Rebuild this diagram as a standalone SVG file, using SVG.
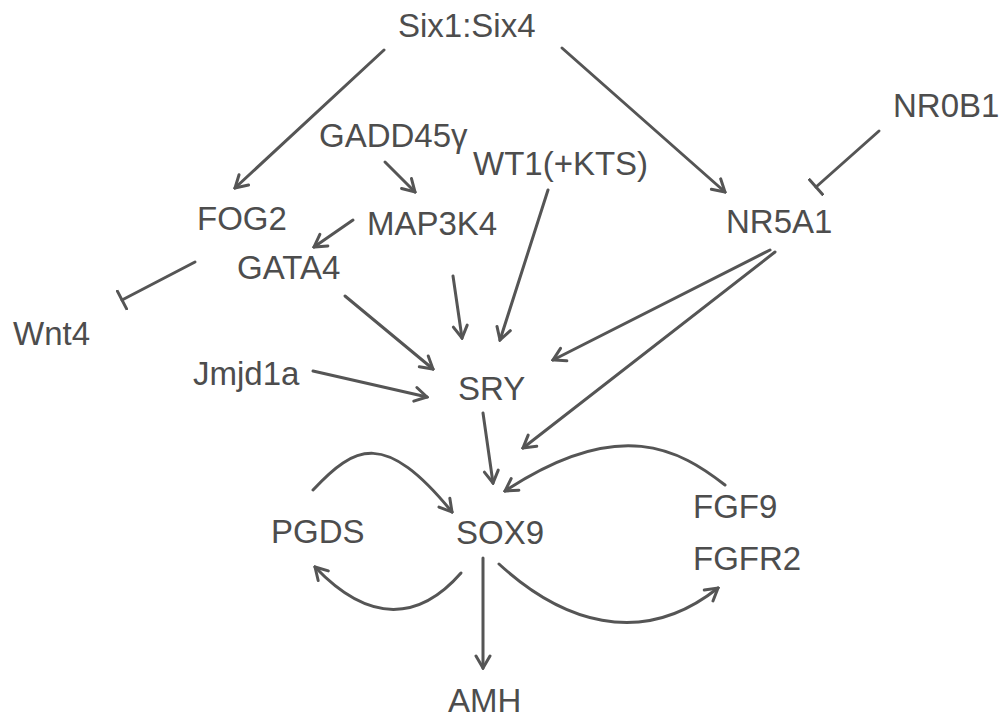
<svg xmlns="http://www.w3.org/2000/svg" width="1003" height="717" viewBox="0 0 1003 717">
<defs>
<style>
text{font-family:"Liberation Sans",Arial,sans-serif;font-size:33px;fill:#4d4d4d}
.c{fill:none;stroke:#555;stroke-width:3;stroke-linecap:round}
.a{marker-end:url(#arr)}
.t{marker-end:url(#bar)}
</style>
<marker id="arr" viewBox="0 0 18 18" markerWidth="18" markerHeight="18" refX="16" refY="9" orient="auto" markerUnits="userSpaceOnUse">
<path d="M4,2 L16,9 L4,16" fill="none" stroke="#555" stroke-width="3" stroke-linejoin="miter" stroke-linecap="round"/>
</marker>
<marker id="bar" viewBox="0 0 6 22" markerWidth="6" markerHeight="22" refX="3" refY="11" orient="auto" markerUnits="userSpaceOnUse">
<path d="M3,1 L3,21" fill="none" stroke="#555" stroke-width="3" stroke-linecap="round"/>
</marker>
</defs>
<rect width="1003" height="717" fill="#fff"/>
<g id="connectors">
<path class="c a" d="M384,50 L235,188"/>
<path class="c a" d="M562,48 L725,192"/>
<path class="c a" d="M385,162 L415,192"/>
<path class="c a" d="M353,220 L314,247"/>
<path class="c a" d="M548,190 L500,340"/>
<path class="c a" d="M453,276 L462,338"/>
<path class="c a" d="M345,296 L433,369"/>
<path class="c a" d="M313,371 L427,397"/>
<path class="c t" d="M195,262 L122,300"/>
<path class="c t" d="M879,131 L816,187"/>
<path class="c a" d="M770,250 L553,360"/>
<path class="c a" d="M775,252 L523,448"/>
<path class="c a" d="M483,413 L493,483"/>
<path class="c a" d="M725,485 C680,450 620,415 505,491"/>
<path class="c a" d="M313,490 C355,445 385,430 452,512"/>
<path class="c a" d="M461,573 C420,620 370,625 315,567"/>
<path class="c a" d="M499,564 C560,620 640,650 718,588"/>
<path class="c a" d="M483,558 L483,668"/>
</g>
<g id="Six1Six4"><text x="398" y="37">Six1:Six4</text></g>
<g id="GADD45g"><text x="319" y="147">GADD45γ</text></g>
<g id="WT1"><text x="473" y="175">WT1(+KTS)</text></g>
<g id="FOG2"><text x="197" y="230">FOG2</text></g>
<g id="MAP3K4"><text x="367" y="235">MAP3K4</text></g>
<g id="GATA4"><text x="237" y="279">GATA4</text></g>
<g id="NR5A1"><text x="726" y="233">NR5A1</text></g>
<g id="NR0B1"><text x="893" y="117">NR0B1</text></g>
<g id="Wnt4"><text x="13" y="345">Wnt4</text></g>
<g id="Jmjd1a"><text x="193" y="385">Jmjd1a</text></g>
<g id="SRY"><text x="458" y="400">SRY</text></g>
<g id="PGDS"><text x="271" y="543">PGDS</text></g>
<g id="SOX9"><text x="456" y="544">SOX9</text></g>
<g id="FGF9"><text x="693" y="518">FGF9</text></g>
<g id="FGFR2"><text x="693" y="570">FGFR2</text></g>
<g id="AMH"><text x="448" y="712">AMH</text></g>
</svg>
